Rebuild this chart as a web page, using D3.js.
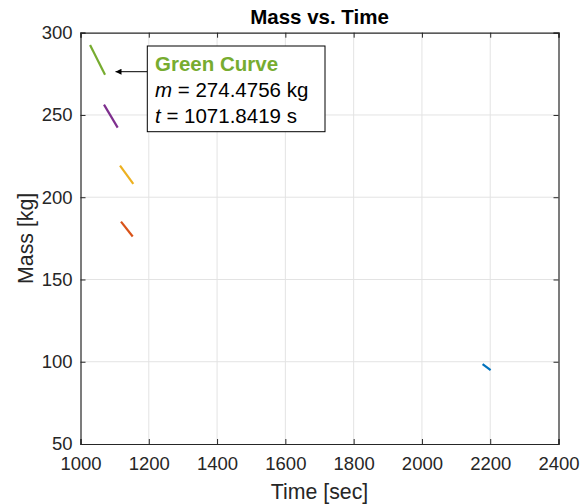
<!DOCTYPE html>
<html><head><meta charset="utf-8">
<script src="https://cdn.jsdelivr.net/npm/d3@7"></script>
<style>body{margin:0;background:#fff}svg{display:block;font-family:"Liberation Sans",Arial,sans-serif}</style>
</head><body><svg id="c" width="581" height="504"></svg>
<script>
const xTicks = [1000,1200,1400,1600,1800,2000,2200,2400];
const yTicks = [50,100,150,200,250,300];
const seriesNames = ["Blue","Orange","Yellow","Purple","Green"];
const seriesColors = ["#0072BD","#D95319","#EDB120","#7E2F8E","#77AC30"];
const seriesTime = [[2177.7,2201.2],[1118.6,1152.9],[1115.7,1154.6],[1068.8,1108.9],[1028,1071.8419]];
const seriesMass = [[98.5,94.9],[185.2,176.1],[219.2,208.1],[256.3,242.3],[292.5,274.4756]];
const annLines = ["Green Curve","m = 274.4756 kg","t = 1071.8419 s"];

const svg = d3.select("#c");
const L=80.5,R=558.5,T=32.7,B=444;
const x = d3.scaleLinear().domain([1000,2400]).range([L,R]);
const y = d3.scaleLinear().domain([50,300]).range([B,T]);
const ax="#262626";

// grid
svg.append("g").selectAll("line").data(xTicks.slice(1,-1)).join("line")
  .attr("x1",d=>x(d)).attr("x2",d=>x(d)).attr("y1",T).attr("y2",B).attr("stroke","#e3e3e3");
svg.append("g").selectAll("line").data(yTicks.slice(1,-1)).join("line")
  .attr("y1",d=>y(d)).attr("y2",d=>y(d)).attr("x1",L).attr("x2",R).attr("stroke","#e3e3e3");

// axes
const fs=18.5;
const gx=svg.append("g").attr("transform",`translate(0,${B})`).call(d3.axisBottom(x).tickValues(xTicks).tickSize(-5).tickPadding(12.4).tickFormat(d3.format("d")));
const gy=svg.append("g").attr("transform",`translate(${L},0)`).call(d3.axisLeft(y).tickValues(yTicks).tickSize(-5).tickPadding(8));
const gt=svg.append("g").attr("transform",`translate(0,${T})`).call(d3.axisTop(x).tickValues(xTicks).tickSize(-5).tickFormat(""));
const gr=svg.append("g").attr("transform",`translate(${R},0)`).call(d3.axisRight(y).tickValues(yTicks).tickSize(-5).tickFormat(""));
[gx,gy,gt,gr].forEach(g=>{
  g.select(".domain").attr("stroke",ax).attr("stroke-width",1.2);
  g.selectAll(".tick line").attr("stroke",ax);
  g.selectAll(".tick text").attr("fill",ax).attr("font-size",fs).attr("font-family","Liberation Sans,Arial,sans-serif");
});

// lines
const line=d3.line().x(d=>x(d[0])).y(d=>y(d[1]));
seriesNames.forEach((n,i)=>{
  const pts=seriesTime[i].map((t,j)=>[t,seriesMass[i][j]]);
  svg.append("path").attr("d",line(pts)).attr("fill","none").attr("stroke",seriesColors[i]).attr("stroke-width",2.2);
});

// titles
svg.append("text").attr("x",(L+R)/2).attr("y",24).attr("text-anchor","middle").attr("font-weight","bold").attr("font-size",20.5).attr("fill","#000").text("Mass vs. Time");
svg.append("text").attr("x",(L+R)/2).attr("y",499).attr("text-anchor","middle").attr("font-size",21.3).attr("fill",ax).text("Time [sec]");
svg.append("text").attr("transform",`translate(33,${(T+B)/2}) rotate(-90)`).attr("text-anchor","middle").attr("font-size",21.3).attr("fill",ax).text("Mass [kg]");

// annotation
const bx=147.3,by=46,bw=177.7,bh=85.7;
svg.append("defs").append("marker").attr("id","ah").attr("viewBox","0 0 10 10").attr("refX",10).attr("refY",5)
  .attr("markerWidth",9).attr("markerHeight",6).attr("markerUnits","userSpaceOnUse").attr("orient","auto")
  .append("path").attr("d","M0,0L10,5L0,10Z").attr("fill","#000");
svg.append("line").attr("x1",bx).attr("y1",71.7).attr("x2",x(1071.8419)+10.5).attr("y2",71.7).attr("stroke","#000").attr("stroke-width",1).attr("marker-end","url(#ah)");
svg.append("rect").attr("x",bx).attr("y",by).attr("width",bw).attr("height",bh).attr("fill","#fff").attr("stroke","#000").attr("stroke-width",1);
const tx=155, afs=20.5;
svg.append("text").attr("x",tx).attr("y",71).attr("font-size",afs).attr("font-weight","bold").attr("fill","#77AC30").text(annLines[0]);
const t2=svg.append("text").attr("x",tx).attr("y",97).attr("font-size",afs).attr("fill","#000");
t2.append("tspan").attr("font-style","italic").text("m");
t2.append("tspan").text(annLines[1].slice(1));
const t3=svg.append("text").attr("x",tx).attr("y",123).attr("font-size",afs).attr("fill","#000");
t3.append("tspan").attr("font-style","italic").text("t");
t3.append("tspan").text(annLines[2].slice(1));
</script></body></html>
